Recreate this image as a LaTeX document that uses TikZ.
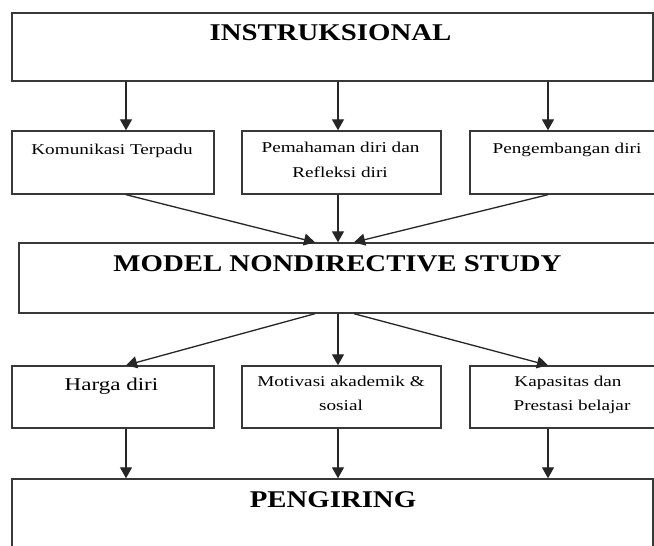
\documentclass[tikz,border=0pt]{standalone}
\usepackage{fontspec}
\usetikzlibrary{arrows.meta}
\newfontfamily\headfont[FakeStretch=1.2]{Liberation Serif}
\newfontfamily\boxfont[FakeStretch=1.28]{Liberation Serif}
\begin{document}
\begin{tikzpicture}[x=1pt,y=-1pt,
  box/.style={draw=black!78, line width=1.4pt, rectangle, inner sep=0pt},
  head/.style={font=\headfont\bfseries\fontsize{24}{28}\selectfont, inner sep=0pt, anchor=base},
  lbl/.style={font=\boxfont\fontsize{15}{18}\selectfont, inner sep=0pt, anchor=base},
  arr/.style={draw=black!85, line width=1.3pt, -{Triangle[length=11pt,width=12pt]}}]
\clip (0,0) rectangle (654,546);
\fill[white] (0,0) rectangle (654,546);

% column positions of the connectors
\coordinate (c1) at (126,0);
\coordinate (c2) at (338,0);
\coordinate (c3) at (548,0);
\coordinate (m1) at (315,0);
\coordinate (m3) at (354,0);

% boxes
\node[box, minimum width=641pt, minimum height=68pt] (top) at (332.5,47) {};
\node[box, minimum width=202pt, minimum height=63pt] (b1) at (113,162.5) {};
\node[box, minimum width=199pt, minimum height=63pt] (b2) at (341.5,162.5) {};
\node[box, minimum width=188pt, minimum height=63pt] (b3) at (564,162.5) {};
\node[box, minimum width=639pt, minimum height=70pt] (mid) at (338.5,278) {};
\node[box, minimum width=202pt, minimum height=62pt] (d1) at (113,397) {};
\node[box, minimum width=199pt, minimum height=62pt] (d2) at (341.5,397) {};
\node[box, minimum width=188pt, minimum height=62pt] (d3) at (564,397) {};
\node[box, minimum width=641pt, minimum height=72pt] (bot) at (332.5,515) {};

% texts
\node[head] (t0) at (330.5,41) {INSTRUKSIONAL};
\node[lbl] (t1) at (112,154) {Komunikasi Terpadu};
\node[lbl] (t2a) at (340.5,152) {Pemahaman diri dan};
\node[lbl] (t2b) at (340,177) {Refleksi diri};
\node[lbl] (t3) at (567,153) {Pengembangan diri};
\node[head] (tm) at (337.5,271) {MODEL NONDIRECTIVE STUDY};
\node[lbl, font=\boxfont\fontsize{18}{21}\selectfont] (u1) at (111.5,390) {Harga diri};
\node[lbl] (u2a) at (341,386) {Motivasi akademik \&};
\node[lbl] (u2b) at (341,410) {sosial};
\node[lbl] (u3a) at (568,386) {Kapasitas dan};
\node[lbl] (u3b) at (572,410) {Prestasi belajar};
\node[head] (tb) at (333,507) {PENGIRING};

% connectors
\draw[arr] (top.south -| c1) -- (b1.north -| c1);
\draw[arr] (top.south -| c2) -- (b2.north -| c2);
\draw[arr] (top.south -| c3) -- (b3.north -| c3);

\draw[arr] (b1.south -| c1) -- (mid.north -| m1);
\draw[arr] (b2.south -| c2) -- (mid.north -| c2);
\draw[arr] (b3.south -| c3) -- (mid.north -| m3);

\draw[arr] (mid.south -| m1) -- (d1.north -| c1);
\draw[arr] (mid.south -| c2) -- (d2.north -| c2);
\draw[arr] (mid.south -| m3) -- (d3.north -| c3);

\draw[arr] (d1.south -| c1) -- (bot.north -| c1);
\draw[arr] (d2.south -| c2) -- (bot.north -| c2);
\draw[arr] (d3.south -| c3) -- (bot.north -| c3);
\end{tikzpicture}
\end{document}
